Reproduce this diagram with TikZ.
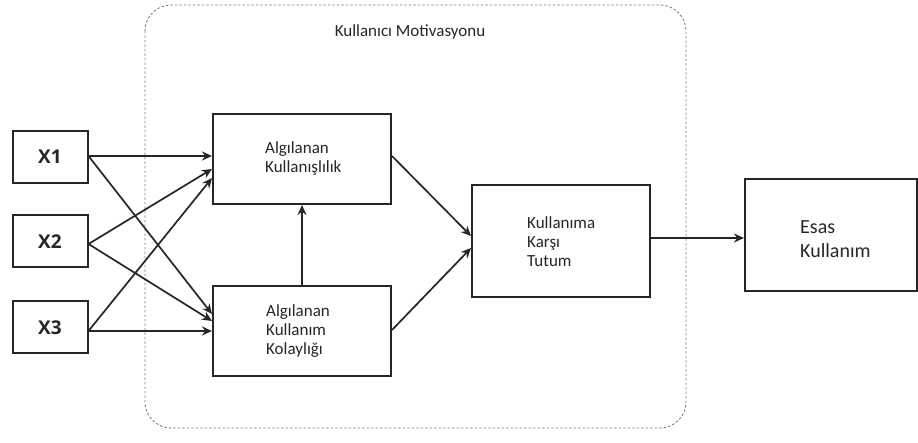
\documentclass[tikz,border=0pt]{standalone}
\usepackage{fontspec}
\setmainfont{Carlito}
\newfontfamily\xfont{Open Sans}
\usetikzlibrary{arrows.meta}
\begin{document}
\begin{tikzpicture}[x=1pt,y=-1pt,
  box/.style={draw=black!85, line width=2pt, fill=white, inner sep=0pt},
  txt/.style={align=left, inner sep=0pt, font=\fontsize{17}{19}\selectfont, text=black!85},
  xlab/.style={font=\xfont\bfseries\fontsize{19}{22}\selectfont, text=black!85},
  conn/.style={draw=black!85, line width=1.7pt, -{Stealth[length=10pt,width=9pt]}},
  group/.style={draw=black!50, line width=0.9pt, dash pattern=on 2.5pt off 2pt, rounded corners=26pt}]
  % canvas
  \fill[white] (0,0) rectangle (918,443);
  \useasboundingbox (0,0) rectangle (918,443);

  % dashed motivation frame
  \draw[group] (145,5) rectangle (686,428);
  \node[txt] (mot) at (410,32) {Kullanıcı Motivasyonu};

  % input variables
  \node[box, minimum width=75pt, minimum height=52pt, xlab] (x1) at (50,157) {X1};
  \node[box, minimum width=75pt, minimum height=52pt, xlab] (x2) at (50,241.5) {X2};
  \node[box, minimum width=75pt, minimum height=52pt, xlab] (x3) at (50,327.5) {X3};

  % TAM constructs
  \node[box, minimum width=178pt, minimum height=90pt] (au) at (302,159) {};
  \node[txt, anchor=west] (aut) at (265,158.5) {Algılanan\\Kullanışlılık};
  \node[box, minimum width=178pt, minimum height=90pt] (akk) at (302,331) {};
  \node[txt, anchor=west] (akkt) at (266,331) {Algılanan\\Kullanım\\Kolaylığı};
  \node[box, minimum width=178pt, minimum height=112pt] (kkt) at (561,241) {};
  \node[txt, anchor=west] (kktt) at (527,242) {Kullanıma\\Karşı\\Tutum};
  \node[box, minimum width=172pt, minimum height=112pt] (esas) at (831,235) {};
  \node[txt, anchor=west, font=\fontsize{20}{24}\selectfont] (esast) at (800,239) {Esas\\Kullanım};

  % connectors from inputs
  \draw[conn] (x1.east |- 0,156) -- (au.west |- 0,156);
  \draw[conn] (x1.east |- 0,156) -- (akk.west |- 0,314);
  \draw[conn] (x2.east |- 0,244) -- (au.west |- 0,169);
  \draw[conn] (x2.east |- 0,244) -- (akk.west |- 0,321);
  \draw[conn] (x3.east |- 0,331) -- (au.west |- 0,178);
  \draw[conn] (x3.east |- 0,331) -- (akk.west |- 0,331);

  % paths between constructs
  \draw[conn] (akk.north) -- (au.south);
  \draw[conn] (au.east |- 0,156) -- (kkt.west |- 0,236);
  \draw[conn] (akk.east |- 0,330) -- (kkt.west |- 0,248);
  \draw[conn] (kkt.east |- 0,238) -- (esas.west |- 0,238);
\end{tikzpicture}
\end{document}
